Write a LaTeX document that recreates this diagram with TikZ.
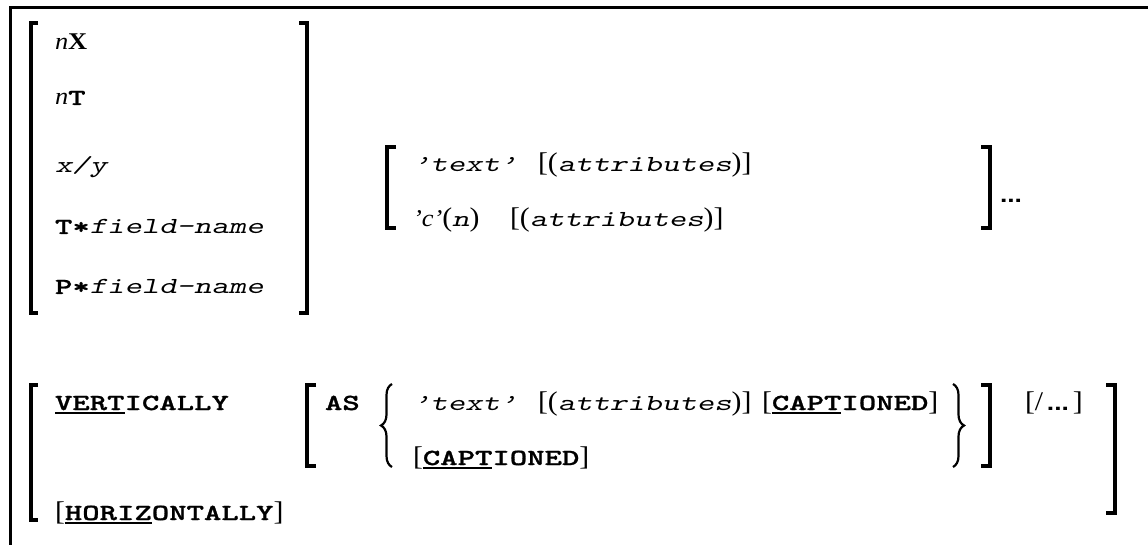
\documentclass[tikz,border=0pt]{standalone}
\usepackage{fontspec}
\usetikzlibrary{decorations.pathreplacing}
\newfontfamily\courf{lmmono10-regular}[Extension=.otf, UprightFont=lmmono10-regular, ItalicFont=lmmonoslant10-regular, BoldFont=lmmonolt10-bold, BoldItalicFont=lmmonolt10-boldoblique, FakeStretch=1.44, BoldFeatures={FakeBold=1.2}]
\newfontfamily\timesf[FakeStretch=1.1]{Liberation Serif}
\newfontfamily\arialf[FakeStretch=1.2]{Liberation Sans}
\newcommand\CB[1]{{\courf\bfseries #1}}
\newcommand\CI[1]{{\courf\itshape #1}}
\newcommand\TR[1]{{\timesf\fontsize{27}{30}\selectfont #1}}
\newcommand\TI[1]{{\timesf\itshape\fontsize{24}{28}\selectfont #1}}
\newcommand\TB[1]{{\timesf\bfseries\fontsize{24}{28}\selectfont #1}}
\newcommand\DOTS{{\arialf\bfseries\fontsize{22}{26}\selectfont ...}}
\newcommand\UL[1]{\setbox0\hbox{#1}\rlap{\rule[-3.5pt]{\wd0}{1.8pt}}\box0}
\tikzset{
  txt/.style={inner sep=0pt, outer sep=0pt, anchor=base west, font=\fontsize{23}{26}\selectfont},
  brk/.style={line width=4.5pt, line cap=butt, line join=miter},
  brc/.style={decorate, decoration={brace, amplitude=11pt}, line width=2.2pt},
  frame/.style={line width=3pt}
}
\begin{document}
\begin{tikzpicture}[x=1pt,y=-1pt]
\useasboundingbox (0,0) rectangle (1148,545);
\draw[frame] (10,545) -- (10,7.5) -- (1148,7.5);

% group 1
\draw[brk] (38,23) -- (31,23) -- (31,313) -- (38,313);
\node[txt] (nx) at (55,50) {\TI{n}\TB{X}};
\node[txt] (nt) at (55,105) {\TI{n}\CB{T}};
\node[txt] (xy) at (55,173) {\CI{x/y}};
\node[txt] (tf) at (55,234) {\CB{T*}\CI{field-name}};
\node[txt] (pf) at (55,294) {\CB{P*}\CI{field-name}};
\draw[brk] (299,23) -- (307,23) -- (307,313) -- (299,313);

% group 2
\draw[brk] (396,147) -- (387,147) -- (387,228) -- (396,228);
\node[txt] (t1) at (413,172) {\CI{’text’}};
\node[txt] (a1) at (538,172) {\TR{[(}\CI{attributes}\TR{)]}};
\node[txt] (c2) at (413,227) {\TI{’c’}\TR{(}\CI{n}\TR{)}};
\node[txt] (a2) at (510,227) {\TR{[(}\CI{attributes}\TR{)]}};
\draw[brk] (981,147) -- (990,147) -- (990,228) -- (981,228);
\node[txt] (d1) at (1000,203) {\DOTS};

% bottom
\draw[brk] (38,385) -- (31,385) -- (31,520) -- (38,520);
\node[txt] (ve) at (55,410) {\CB{\UL{VERT}ICALLY}};
\node[txt] (ho) at (55,520) {\TR{[}\CB{\UL{HORIZ}ONTALLY}\TR{]}};
\draw[brk] (316,385) -- (307,385) -- (307,466) -- (316,466);
\node[txt] (as) at (325,410) {\CB{AS}};
\draw[brc] (392,467) -- (392,384);
\node[txt] (t3) at (413,410) {\CI{’text’}};
\node[txt] (a3) at (538,410) {\TR{[(}\CI{attributes}\TR{)]}};
\node[txt] (c3) at (762,410) {\TR{[}\CB{\UL{CAPT}IONED}\TR{]}};
\node[txt] (c4) at (413,465) {\TR{[}\CB{\UL{CAPT}IONED}\TR{]}};
\draw[brc] (953,384) -- (953,467);
\draw[brk] (981,385) -- (990,385) -- (990,466) -- (981,466);
\node[txt] (sl) at (1025,410) {\TR{[/}\,\DOTS\,\TR{]}};
\draw[brk] (1106,385) -- (1115,385) -- (1115,513) -- (1106,513);
\end{tikzpicture}
\end{document}
